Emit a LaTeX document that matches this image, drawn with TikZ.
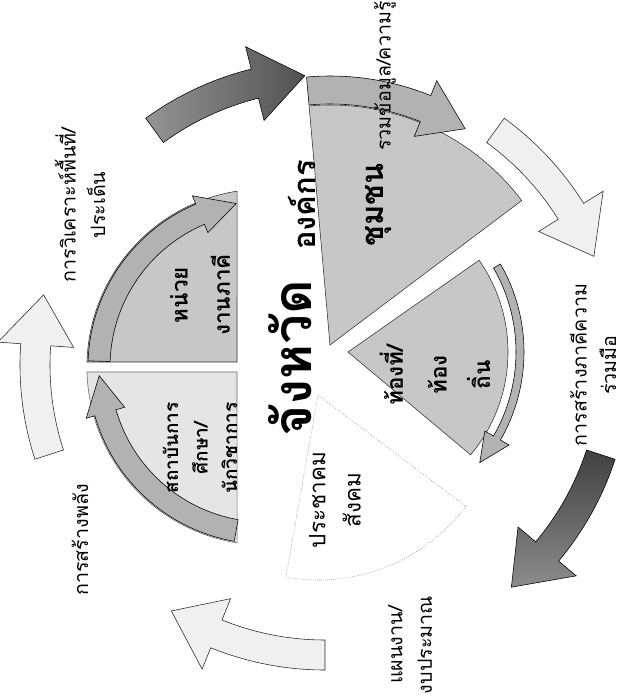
\documentclass[tikz,border=0pt]{standalone}
\usepackage{fontspec}
\newfontfamily\thaifont[Script=Thai]{Loma}

\tikzset{
  darktop/.style={draw=black, left color=black!42, right color=black!68},
  darkright/.style={draw=black, top color=black!75, bottom color=black!45},
  lightarrow/.style={draw=black!85, fill=black!6},
  wedgedark/.style={draw=black!80, fill=black!22},
  wedgelight/.style={draw=black!60, fill=black!10},
  wedgewhite/.style={draw=black!50, densely dotted, fill=white},
  band/.style={draw=black, fill=black!30},
  ringlabel/.style={rotate=90, align=center, font=\thaifont\fontsize{14}{21}\selectfont},
  sectorlabel/.style={rotate=90, align=center, font=\thaifont\bfseries\fontsize{16}{30}\selectfont}
}

% curved block arrow: [style]{centre}{radius}{width}{head}{tail angle}{head base}{tip}
\newcommand{\cyclearrow}[8][]{%
  \draw[#1,shift={(#2)}] ({#6}:{#3+#4/2}) arc[start angle=#6, end angle=#7, radius=#3+#4/2]
    -- ({#7}:{#3+#5}) -- ({#8}:{#3}) -- ({#7}:{#3-#5}) -- ({#7}:{#3-#4/2})
    arc[start angle=#7, end angle=#6, radius=#3-#4/2] -- cycle;}
% pie wedge: [style]{apex}{from}{to}{radius}
\newcommand{\piewedge}[5][]{%
  \draw[#1] (#2) -- ++(#3:#5) arc[start angle=#3, end angle=#4, radius=#5] -- cycle;}

\begin{document}
\begin{tikzpicture}[x=0.025cm, y=0.025cm]
    \useasboundingbox (0,0) rectangle (629,-698);

    % outer cycle
    \foreach \t/\kind in {126/darktop, 54/lightarrow, -18/darkright, -90/lightarrow, -162/lightarrow} {
        \pgfmathsetmacro{\b}{\t-22}
        \pgfmathsetmacro{\e}{\t-32}
        \cyclearrow[\kind]{325,-365}{290}{30}{38}{\t}{\b}{\e}
    }

    % inner pie, left pair cut at x = 237
    \draw[wedgedark] (237,-362) -- (87,-362) arc[start angle=178.4, end angle=99, radius=178] -- cycle;
    \cyclearrow[band]{265,-367}{166}{22}{20}{178}{113}{100}
    \draw[wedgelight] (237,-372) -- (87,-372) arc[start angle=181.6, end angle=261, radius=178] -- cycle;
    \cyclearrow[band]{265,-367}{166}{22}{20}{260}{196}{183}
    \piewedge[wedgedark]{330,-345}{37}{95}{240}
    \cyclearrow[band]{330,-345}{255}{28}{30}{95}{68}{58}
    \piewedge[wedgedark]{348,-352}{-40}{35}{160}
    \cyclearrow[band]{348,-352}{172}{8}{14}{30}{-30}{-40}
    \piewedge[wedgewhite]{318,-395}{-100}{-37}{185}

    \node[sectorlabel] (partners) at (200,-295) {หน่วย\\งานภาคี};
    \node[sectorlabel, font=\thaifont\bfseries\fontsize{13.5}{21}\selectfont] (academy) at (200,-448) {สถาบันการ\\ศึกษา/\\นักวิชาการ};
    \node[sectorlabel, font=\thaifont\bfseries\fontsize{22}{48}\selectfont] (community) at (340,-205) {องค์กร\\ชุมชน};
    \node[sectorlabel, font=\thaifont\bfseries\fontsize{16}{31}\selectfont] (local) at (435,-375) {ท้องที่/\\ท้อง\\ถิ่น};
    \node[ringlabel, font=\thaifont\fontsize{16}{25}\selectfont] (civil) at (335,-500) {ประชาคม\\สังคม};
    \node[rotate=90, font=\thaifont\bfseries\fontsize{38}{45}\selectfont] (province) at (290,-358) {จังหวัด};

    % labels between the arrows
    \node[ringlabel] (analyse) at (80,-205) {การวิเคราะห์พื้นที่/\\ประเด็น};
    \node[ringlabel] (gather) at (385,-76) {รวมข้อมูล/ความรู้};
    \node[ringlabel] (partner) at (593,-365) {การสร้างภาคีความ\\ร่วมมือ};
    \node[ringlabel] (plan) at (410,-645) {แผนงาน/\\งบประมาณ};
    \node[ringlabel] (power) at (80,-540) {การสร้างพลัง};
\end{tikzpicture}
\end{document}
